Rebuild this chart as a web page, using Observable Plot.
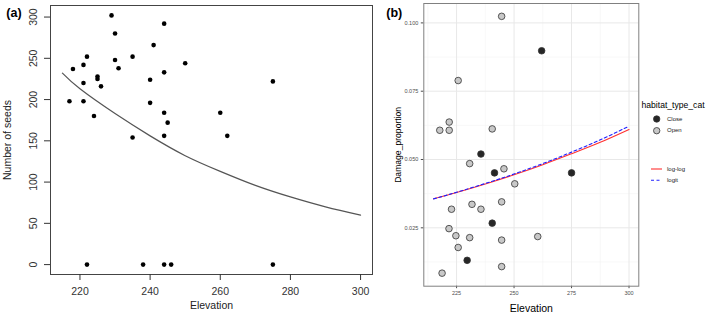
<!DOCTYPE html>
<html><head><meta charset="utf-8">
<script src="https://cdn.jsdelivr.net/npm/d3@7"></script>
<script src="https://cdn.jsdelivr.net/npm/@observablehq/plot@0.6"></script>
<style>
body{margin:0;background:#fff;font-family:"Liberation Sans",Arial,sans-serif;}
#wrap{position:relative;width:709px;height:317px;overflow:hidden;background:#fff}
#a,#b{position:absolute;top:0}
#a{left:0} #b{left:360px}
#leg{position:absolute;left:0;top:0}
</style></head><body>
<div id="wrap"><div id="a"></div><div id="b"></div>
<svg id="leg" width="709" height="317" font-family="Liberation Sans, Arial, sans-serif">
  <text x="641.5" y="106" font-size="8.6" dominant-baseline="middle" fill="#000">habitat_type_cat</text>
  <circle cx="656.7" cy="119" r="3.2" fill="#262626" stroke="#333" stroke-width="0.8"></circle>
  <text x="667" y="119" font-size="6" dominant-baseline="middle" fill="#222">Close</text>
  <circle cx="656.7" cy="130.7" r="3.2" fill="#c8c8c8" stroke="#333" stroke-width="0.8"></circle>
  <text x="667" y="130.7" font-size="6" dominant-baseline="middle" fill="#222">Open</text>
  <line x1="651" x2="662" y1="169" y2="169" stroke="#ff3030" stroke-width="1.1"></line>
  <text x="667" y="169" font-size="6" dominant-baseline="middle" fill="#222">log-log</text>
  <line x1="651" x2="662" y1="180.3" y2="180.3" stroke="#2020ff" stroke-width="1.1" stroke-dasharray="3,2.5"></line>
  <text x="667" y="180.3" font-size="6" dominant-baseline="middle" fill="#222">logit</text>
</svg>
</div>
<script>
// Panel (a): number of seeds vs elevation
const seedElev = [229,244,230,241,222,235,230,250,221,218,231,244,225,225,240,275,221,226,217,221,240,260,244,224,245,235,244,262,222,238,244,246,275];
const seeds    = [302,292,280,266,252,252,248,244,242,237,238,233,228,225,224,222,220,216,198,198,196,184,184,180,172,154,156,156,0,0,0,0,0];
const curveElev  = [215,220,230,240,250,260,270,280,290,300];
const curveSeeds = [232,213,183,156,132,113,96,82,70,60];
const xTicksA = [220,240,260,280,300];
const yTicksA = [0,50,100,150,200,250,300];

// Panel (b): damage proportion vs elevation
const damageElev = [262,235.6,241.5,275,240.5,229.6, 244.6,225.7,221.8,217.7,221.8,240.5,230.7,245.6,250.3,244.6,231.7,222.8,235.6,221.7,224.7,230.7,244.6,260.3,225.7,244.6,218.7];
const damageVal  = [0.0898,0.0520,0.0451,0.0451,0.0267,0.0131, 0.1024,0.0789,0.0637,0.0607,0.0607,0.0612,0.0485,0.0466,0.0411,0.0345,0.0336,0.0318,0.0318,0.0247,0.0221,0.0214,0.0205,0.0218,0.0178,0.0108,0.0084];
const habitat    = ["Close","Close","Close","Close","Close","Close","Open","Open","Open","Open","Open","Open","Open","Open","Open","Open","Open","Open","Open","Open","Open","Open","Open","Open","Open","Open","Open"];
const fitElev   = [215,225,240,250,262.5,275,287.5,300];
const fitLogLog = [0.0356,0.0379,0.0417,0.0444,0.0481,0.0521,0.0563,0.0610];
const fitLogit  = [0.0356,0.0380,0.0419,0.0447,0.0485,0.0527,0.0572,0.0622];
const xTicksB = [225,250,275,300];
const yTicksB = [0.025,0.050,0.075,0.100];
const xMinorB = [212.5,237.5,262.5,287.5];
const yMinorB = [0.0125,0.0375,0.0625,0.0875];

const font = "Liberation Sans, Arial, sans-serif";
const ptsA = seedElev.map((x,i)=>({x, y:seeds[i]}));
const curveA = curveElev.map((x,i)=>({x, y:curveSeeds[i]}));

const plotA = Plot.plot({
  width:380, height:317, marginLeft:50, marginRight:8, marginTop:5, marginBottom:43,
  style:{fontFamily:font, fontSize:"10.5px", color:"#222", background:"transparent", overflow:"visible"},
  x:{domain:[211.6,303.4]}, y:{domain:[-12,314]},
  marks:[
    Plot.frame({stroke:"#444", strokeWidth:1}),
    Plot.axisX({ticks:xTicksA, tickSize:6, tickPadding:7, label:null, fontSize:10.5, color:"#333"}),
    Plot.axisY({ticks:yTicksA, tickSize:6, tickFormat:()=>"", label:null, color:"#333"}),
    Plot.text(yTicksA, {y:d=>d, text:d=>String(d), frameAnchor:"left", dx:-17, rotate:-90, textAnchor:"middle", fontSize:10.5, fill:"#333"}),
    Plot.line(curveA, {x:"x", y:"y", stroke:"#555", strokeWidth:1.2, curve:"natural"}),
    Plot.dot(ptsA, {x:"x", y:"y", r:2.3, fill:"black", stroke:null}),
    Plot.text(["Elevation"], {text:d=>d, frameAnchor:"bottom", dy:34, fontSize:10.5, fill:"#222"}),
    Plot.text(["Number of seeds"], {text:d=>d, frameAnchor:"left", dx:-43, rotate:-90, textAnchor:"middle", fontSize:10.5, fill:"#222"}),
    Plot.text(["(a)"], {text:d=>d, frameAnchor:"top-left", dx:-36.5, dy:2.5, textAnchor:"middle", fontWeight:"bold", fontSize:12.5, fill:"#000"})
  ]
});
document.getElementById("a").append(plotA);

const ptsB = damageElev.map((x,i)=>({x, y:damageVal[i], h:habitat[i]}));
const llB = fitElev.map((x,i)=>({x, y:fitLogLog[i]}));
const lgB = fitElev.map((x,i)=>({x, y:fitLogit[i]}));

const plotB = Plot.plot({
  width:349, height:317, marginLeft:63.3, marginRight:70.7, marginTop:3, marginBottom:31.3,
  style:{fontFamily:font, fontSize:"5.5px", color:"#4d4d4d", background:"transparent", overflow:"visible"},
  x:{domain:[210.75,304.25]}, y:{domain:[0.00363,0.1071]},
  marks:[
    Plot.ruleX(xMinorB, {stroke:"#f3f3f3", strokeWidth:0.6}),
    Plot.ruleY(yMinorB, {stroke:"#f3f3f3", strokeWidth:0.6}),
    Plot.ruleX(xTicksB, {stroke:"#e8e8e8", strokeWidth:1}),
    Plot.ruleY(yTicksB, {stroke:"#e8e8e8", strokeWidth:1}),
    Plot.axisX({ticks:xTicksB, tickSize:2.5, tickPadding:2, label:null, fontSize:5.5, color:"#4d4d4d", tickFormat:d=>String(d)}),
    Plot.axisY({ticks:yTicksB, tickSize:2.5, tickPadding:3, label:null, fontSize:5.5, color:"#4d4d4d", tickFormat:d=>d.toFixed(3)}),
    Plot.dot(ptsB, {x:"x", y:"y", r:3.3, fill:d=>d.h==="Close"?"#262626":"#c8c8c8", stroke:"#333", strokeWidth:0.8}),
    Plot.line(llB, {x:"x", y:"y", stroke:"#ff3030", strokeWidth:1.1, curve:"natural"}),
    Plot.line(lgB, {x:"x", y:"y", stroke:"#2020ff", strokeWidth:1.1, strokeDasharray:"3,2.5", curve:"natural"}),
    Plot.frame({stroke:"#808080", strokeWidth:1}),
    Plot.text(["Elevation"], {text:d=>d, frameAnchor:"bottom", dy:26, fontSize:10.5, fill:"#000"}),
    Plot.text(["Damage_proportion"], {text:d=>d, frameAnchor:"left", dx:-25.5, rotate:-90, textAnchor:"middle", fontSize:8.6, fill:"#000"}),
    Plot.text(["(b)"], {text:d=>d, frameAnchor:"top-left", dx:-29.5, dy:4.5, textAnchor:"middle", fontWeight:"bold", fontSize:12.5, fill:"#000"})
  ]
});
document.getElementById("b").append(plotB);
</script>
</body></html>
